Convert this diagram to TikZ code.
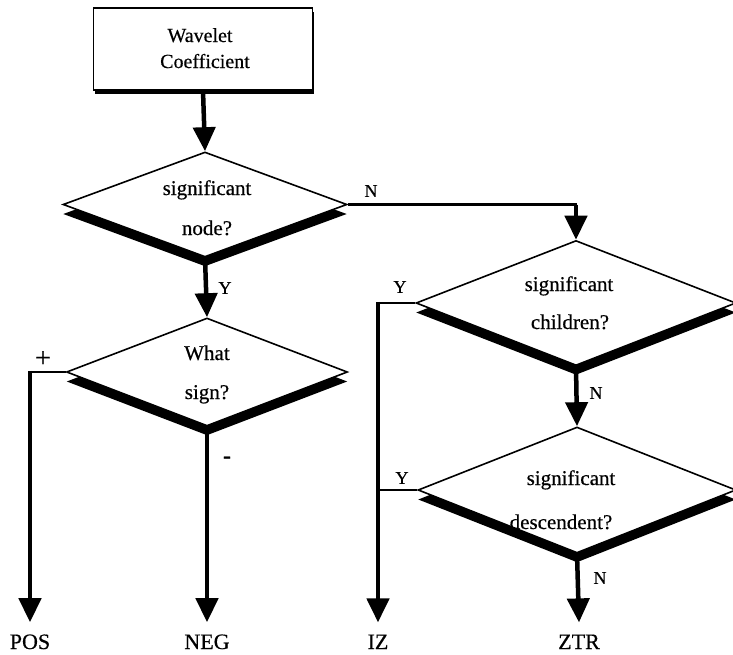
\documentclass[tikz,border=0pt]{standalone}
\usepackage{fontspec}
\setmainfont{Liberation Serif}[FakeBold=0.5]
\usetikzlibrary{arrows.meta,shapes.geometric,shadows}
\begin{document}
\begin{tikzpicture}[x=1pt,y=-1pt,
  txt/.style={font=\fontsize{21}{25}\selectfont, inner sep=0pt, anchor=base},
  boxtxt/.style={font=\fontsize{20}{24}\selectfont, inner sep=0pt, anchor=base},
  endtxt/.style={font=\fontsize{22}{26}\selectfont, inner sep=0pt, anchor=base},
  lbl/.style={font=\fontsize{18}{22}\selectfont, inner sep=0pt},
  dia/.style={diamond, draw, line width=1.6pt, fill=white, inner sep=0pt,
    general shadow={fill=black, shadow yshift=-9.5pt}},
  vl/.style={line width=4.5pt},
  hl/.style={line width=2.4pt},
  tip/.style={-{Triangle[length=24pt,width=22pt]}},
]
\useasboundingbox (0,0) rectangle (733,654);
% start box
\node[draw, line width=1.6pt, fill=white, minimum width=219pt, minimum height=82pt, inner sep=0pt,
  general shadow={fill=black, shadow xshift=1.5pt, shadow yshift=-3.5pt}] (box) at (203,49) {};
\node[boxtxt] (t0a) at (200,42) {Wavelet};
\node[boxtxt] (t0b) at (205,68) {Coefficient};
% diamonds
\node[dia, minimum width=284pt, minimum height=105pt] (d1) at (205,204.5) {};
\node[dia, minimum width=281pt, minimum height=108pt] (d3) at (207,372) {};
\node[dia, minimum width=320pt, minimum height=125pt] (d2) at (576,303) {};
\node[dia, minimum width=318pt, minimum height=126pt] (d4) at (577,490) {};
% diamond texts
\node[txt] (t1a) at (207,195) {significant};
\node[txt] (t1b) at (207,235) {node?};
\node[txt] (t3a) at (207,360) {What};
\node[txt] (t3b) at (207,399) {sign?};
\node[txt] (t2a) at (569,291) {significant};
\node[txt] (t2b) at (570,329) {children?};
\node[txt] (t4a) at (571,485) {significant};
\node[txt] (t4b) at (561,529) {descendent?};
% end nodes
\node[endtxt] (pos) at (30,649) {POS};
\node[endtxt] (neg) at (207,649) {NEG};
\node[endtxt] (iz) at (378,649) {IZ};
\node[endtxt] (ztr) at (579,649) {ZTR};
% corner coordinates
\coordinate (c1) at (d1.east -| d2.north);
\coordinate (c2) at (d3.west -| pos.north);
\coordinate (c3) at (d2.west -| iz.north);
\coordinate (c4) at (d4.west -| iz.north);
% connectors
\draw[vl,tip] (box.south) -- (d1.north);
\draw[vl,tip] (d1.south) -- (d3.north);
\draw[hl] (d1.east) -- ([xshift=1.2pt]c1);
\draw[vl,tip] (c1) -- (d2.north);
\draw[hl] (d3.west) -- ([xshift=-1.2pt]c2);
\draw[vl,tip] ([yshift=1.2pt]c2) -- ([yshift=12pt]pos.north);
\draw[vl,tip] (d3.south) -- ([yshift=12pt]neg.north);
\draw[hl] (d2.west) -- ([xshift=-1.2pt]c3);
\draw[hl] (d4.west) -- (c4);
\draw[vl,tip] ([yshift=1.2pt]c3) -- ([yshift=12pt]iz.north);
\draw[vl,tip] (d2.south) -- (d4.north);
\draw[vl,tip] (d4.south) -- ([yshift=12pt]ztr.north);
% labels
\node[lbl] (lN1) at (371,191) {N};
\node[lbl] (lY1) at (225,288) {Y};
\node[lbl] (lY2) at (400,287) {Y};
\node[lbl] (lN2) at (596,393) {N};
\node[lbl] (lY3) at (402,478) {Y};
\node[lbl] (lN3) at (600,578) {N};
\node[lbl, font=\fontsize{28}{30}\selectfont] (lplus) at (43,359) {+};
\node[lbl, font=\fontsize{24}{26}\selectfont] (lminus) at (227,460) {-};
\end{tikzpicture}
\end{document}
